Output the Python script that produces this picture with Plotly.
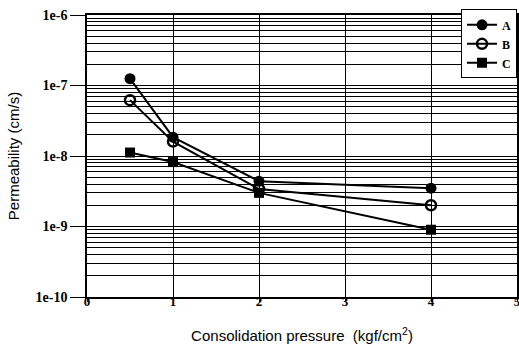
import plotly.graph_objects as go

pressure = [0.5, 1, 2, 4]
perm_a = [1.25e-7, 1.85e-8, 4.4e-9, 3.5e-9]
perm_b = [6.2e-8, 1.6e-8, 3.4e-9, 2.0e-9]
perm_c = [1.12e-8, 8.2e-9, 3.0e-9, 9.0e-10]

y_tickvals = [1e-6, 1e-7, 1e-8, 1e-9, 1e-10]
y_ticktext = ["1e-6", "1e-7", "1e-8", "1e-9", "1e-10"]
x_tickvals = [0, 1, 2, 3, 4, 5]

fig = go.Figure()
series = [
    ("A", perm_a, dict(symbol="circle", size=11, color="black")),
    ("B", perm_b, dict(symbol="circle-open", size=10, color="black", line=dict(width=2.5, color="black"))),
    ("C", perm_c, dict(symbol="square", size=10, color="black")),
]
for name, vals, mk in series:
    fig.add_trace(go.Scatter(x=pressure, y=vals, name=name, mode="lines+markers",
                             line=dict(color="black", width=2), marker=mk))

serif = "Liberation Serif"
sans = "Liberation Sans"
fig.update_layout(
    width=519, height=352,
    margin=dict(l=87, r=2, t=15, b=55),
    paper_bgcolor="white", plot_bgcolor="white",
    showlegend=True,
    legend=dict(x=1, y=1.02, xanchor="right", yanchor="top",
                bordercolor="black", borderwidth=1, bgcolor="white",
                font=dict(family=serif, size=12, color="black", weight="bold"),
                itemwidth=30, tracegroupgap=0),
    xaxis=dict(range=[0, 5], tickvals=x_tickvals, showgrid=True, gridcolor="black", gridwidth=1,
               automargin=False, ticklabeloverflow="allow",
               zeroline=False, showline=True, linecolor="black", linewidth=1.5, mirror=True,
               ticks="outside", ticklen=3, tickcolor="black", ticklabelstandoff=-11,
               tickfont=dict(family=serif, size=13, color="black", weight="bold"),
               title=dict(text="Consolidation pressure  (kgf/cm<sup>2</sup>)",
                          font=dict(family=sans, size=15, color="black"), standoff=22)),
    yaxis=dict(type="log", range=[-10, -6], tickvals=y_tickvals, ticktext=y_ticktext,
               automargin=False,
               showgrid=True, gridcolor="black", gridwidth=1.2,
               minor=dict(showgrid=True, gridcolor="black", gridwidth=1, dtick="D1", ticks=""),
               zeroline=False, showline=True, linecolor="black", linewidth=1.5, mirror=True,
               ticks="outside", ticklen=15, tickcolor="black",
               tickfont=dict(family=serif, size=14, color="black", weight="bold"),
               title=dict(text="Permeability (cm/s)",
                          font=dict(family=sans, size=15, color="black"), standoff=12)),
)
fig.write_html("out.html", config={"displayModeBar": False},
               post_script="document.body.style.margin='0px';")
